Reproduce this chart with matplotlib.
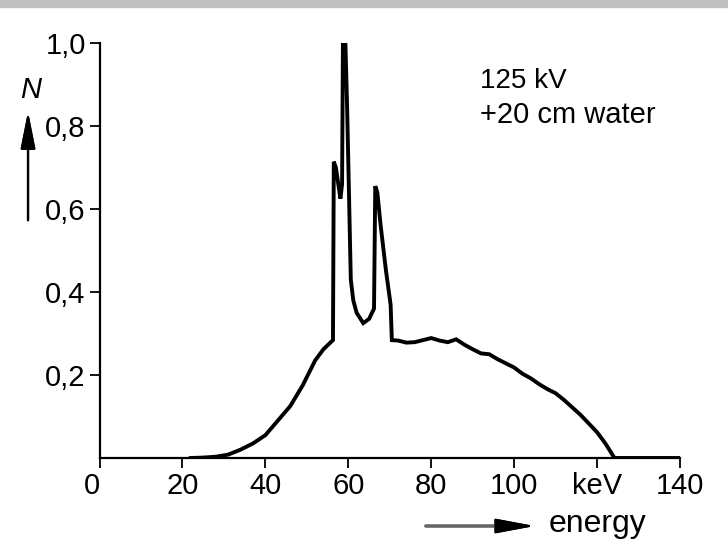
import numpy as np
import matplotlib.pyplot as plt
from matplotlib.transforms import ScaledTranslation

# spectrum (energy in keV, relative number N)
energy = [22, 25, 28, 31, 34, 37, 40, 43, 46, 49, 52, 54, 56.3,
          56.5, 57.0, 58.1, 58.5, 58.7, 59.3, 59.7, 60.2, 60.6, 61.2, 62.0, 63.6, 65.0, 66.2,
          66.5, 67.0, 67.8, 69.1, 70.2, 70.5,
          72, 74, 76, 78, 80, 82, 84, 86, 88, 90, 92, 94, 96, 98, 100, 102, 104, 106,
          108, 110, 112, 114, 116, 118, 120, 122, 124.2, 130, 140]
counts = [0.0, 0.001, 0.003, 0.008, 0.02, 0.035, 0.055, 0.09, 0.125, 0.175, 0.235, 0.262, 0.284,
          0.714, 0.70, 0.625, 0.66, 1.0, 1.0, 0.85, 0.62, 0.43, 0.38, 0.35, 0.325, 0.335, 0.36,
          0.655, 0.64, 0.56, 0.45, 0.37, 0.284,
          0.283, 0.278, 0.279, 0.284, 0.289, 0.283, 0.279, 0.286, 0.273, 0.262, 0.252, 0.25,
          0.238, 0.228, 0.218, 0.203, 0.192, 0.178,
          0.166, 0.156, 0.14, 0.122, 0.104, 0.083, 0.062, 0.035, 0.0, 0.0, 0.0]

xticks = [0, 20, 40, 60, 80, 100, 120, 140]
xlabels = ['0', '20', '40', '60', '80', '100', 'keV', '140']
yticks = [0.2, 0.4, 0.6, 0.8, 1.0]
ylabels = ['0,2', '0,4', '0,6', '0,8', '1,0']

plt.rcParams['font.family'] = ['Liberation Sans', 'DejaVu Sans']

fig = plt.figure(figsize=(7.28, 5.59), dpi=100)
ax = fig.add_axes([0.1367, 0.1807, 0.7974, 0.7424])

ax.plot(energy, counts, color='black', lw=2.8, solid_joinstyle='miter')

ax.set_xlim(0, 140)
ax.set_ylim(0, 1.0)
ax.set_xticks(xticks)
ax.set_xticklabels(xlabels, fontsize=21)
ax.set_yticks(yticks)
ax.set_yticklabels(ylabels, fontsize=21)
# the "0" sits left of the corner and a bit higher on the scan
lab0 = ax.get_xticklabels()[0]
lab0.set_horizontalalignment('right')
lab0.set_transform(lab0.get_transform() + ScaledTranslation(-3/72, 4/72, fig.dpi_scale_trans))

for s in ['top', 'right']:
    ax.spines[s].set_visible(False)
for s in ['left', 'bottom']:
    ax.spines[s].set_linewidth(1.6)
ax.tick_params(direction='out', length=7, width=1.3, pad=3)

# axis captions with arrows, as on the scan
fig.text(0.042, 0.825, 'N', fontsize=21, style='italic', ha='center', va='baseline')
fig.add_artist(plt.annotate('', xy=(0.0385, 0.805), xytext=(0.0385, 0.601),
                            xycoords='figure fraction',
                            arrowprops=dict(arrowstyle='-|>,head_length=0.75,head_width=0.15',
                                            color='black', lw=1.6, mutation_scale=30)))
fig.add_artist(plt.annotate('', xy=(0.70, 0.059), xytext=(0.581, 0.059),
                            xycoords='figure fraction',
                            arrowprops=dict(arrowstyle='-', color='#666666', lw=2.2)))
fig.add_artist(plt.annotate('', xy=(0.738, 0.059), xytext=(0.69, 0.059),
                            xycoords='figure fraction',
                            arrowprops=dict(arrowstyle='-|>,head_length=0.8,head_width=0.15',
                                            color='black', lw=1.5, mutation_scale=30)))
fig.text(0.753, 0.048, 'energy', fontsize=23, ha='left', va='baseline')

fig.text(0.659, 0.843, '125 kV', fontsize=20, ha='left', va='baseline')
fig.text(0.659, 0.780, '+20 cm water', fontsize=21, ha='left', va='baseline')

# grey strip along the top edge of the scan
fig.patches.append(plt.Rectangle((0, 0.987), 1, 0.013, transform=fig.transFigure,
                                 color='#c0c0c0', zorder=0))

fig.savefig('out.png', dpi=100)
